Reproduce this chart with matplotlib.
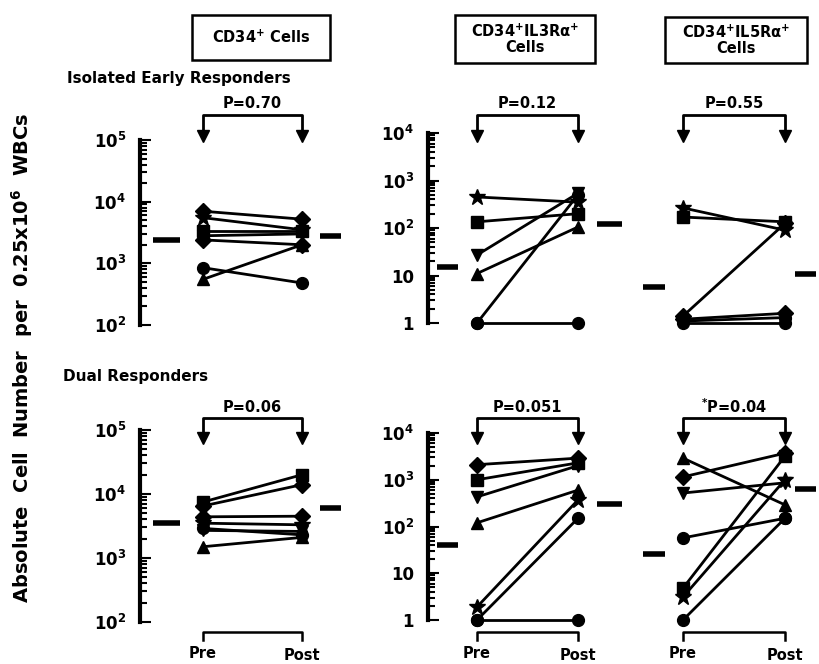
import matplotlib.pyplot as plt
import numpy as np
from matplotlib.transforms import blended_transform_factory
from matplotlib.patches import Rectangle

W, H = 819, 664
plt.rcParams['font.family'] = 'DejaVu Sans'
plt.rcParams['font.weight'] = 'bold'
plt.rcParams['mathtext.default'] = 'bf'

# ---- data ----
# top row: isolated early responders
iso_cd34_pre = [7000, 5500, 3300, 2800, 2400, 850, 550]
iso_cd34_post = [5200, 3500, 3300, 3000, 2000, 480, 2000]
iso_cd34_mk = ['D', '*', 's', 'v', 'D', 'o', '^']
iso_cd34_mean = [2400, 2800]

iso_il3_pre = [450, 135, 27, 11, 1, 1]
iso_il3_post = [350, 200, 540, 105, 500, 1]
iso_il3_mk = ['*', 's', 'v', '^', 'o', 'o']
iso_il3_mean = [15, 120]

iso_il5_pre = [265, 170, 1.4, 1.2, 1.1, 1]
iso_il5_post = [90, 135, 125, 1.6, 1.3, 1]
iso_il5_mk = ['*', 's', 'D', 'D', 'o', 'o']
iso_il5_mean = [5.8, 11]

# bottom row: dual responders
dual_cd34_pre = [7500, 6500, 4400, 3500, 2900, 2700, 1500]
dual_cd34_post = [20000, 14000, 4500, 3300, 2300, 2600, 2100]
dual_cd34_mk = ['s', 'D', 'D', '*', 'o', 'v', '^']
dual_cd34_mean = [3500, 6000]

dual_il3_pre = [2100, 1000, 430, 120, 1.9, 1, 1]
dual_il3_post = [2900, 2300, 2000, 600, 370, 150, 1]
dual_il3_mk = ['D', 's', 'v', '^', '*', 'o', 'o']
dual_il3_mean = [40, 310]

dual_il5_pre = [2900, 1150, 520, 57, 4.8, 3.1, 1]
dual_il5_post = [290, 3700, 860, 150, 3200, 1000, 150]
dual_il5_mk = ['^', 'D', 'v', 'o', 's', '*', 'o']
dual_il5_mean = [26, 630]

p_texts = [['P=0.70', 'P=0.12', 'P=0.55'],
           ['P=0.06', 'P=0.051', '$^{*}$P=0.04']]

fig = plt.figure(figsize=(W / 100, H / 100), dpi=100)


def fx(px):
    return px / W


def fy(py):
    return 1 - py / H


# panel geometry in pixels: x0, x1, pre_px, post_px, left mean, right mean
cols = [
    dict(x0=140, x1=345, pre=203, post=302, ml=(153, 180), mr=(320, 341)),
    dict(x0=428, x1=625, pre=477, post=578, ml=(437, 458), mr=(597, 622)),
    dict(x0=630, x1=818, pre=683, post=785, ml=(643, 665), mr=(795, 816)),
]
rows = [
    [(140, 325, (1e2, 1e5)), (133, 323, (1, 1e4)), (133, 323, (1, 1e4))],
    [(430, 622, (1e2, 1e5)), (433, 620, (1, 1e4)), (433, 620, (1, 1e4))],
]
panels = [
    [(iso_cd34_pre, iso_cd34_post, iso_cd34_mk, iso_cd34_mean),
     (iso_il3_pre, iso_il3_post, iso_il3_mk, iso_il3_mean),
     (iso_il5_pre, iso_il5_post, iso_il5_mk, iso_il5_mean)],
    [(dual_cd34_pre, dual_cd34_post, dual_cd34_mk, dual_cd34_mean),
     (dual_il3_pre, dual_il3_post, dual_il3_mk, dual_il3_mean),
     (dual_il5_pre, dual_il5_post, dual_il5_mk, dual_il5_mean)],
]
bracket_y = [(115, 136, 104), (418, 438, 407)]

for r in range(2):
    for c in range(3):
        g = cols[c]
        ytop, ybot, ylim = rows[r][c]
        ax = fig.add_axes([fx(g['x0']), fy(ybot), (g['x1'] - g['x0']) / W,
                           (ybot - ytop) / H])
        unit = g['post'] - g['pre']
        ax.set_xlim((g['x0'] - g['pre']) / unit, (g['x1'] - g['pre']) / unit)
        ax.set_yscale('log')
        ax.set_ylim(*ylim)
        for s in ['top', 'right', 'bottom']:
            ax.spines[s].set_visible(False)
        ax.set_xticks([])
        ax.patch.set_alpha(0)
        if c == 2:
            ax.spines['left'].set_visible(False)
            ax.set_yticks([])
            ax.minorticks_off()
        else:
            ax.spines['left'].set_linewidth(3)
            ax.tick_params(which='both', direction='in', width=1.5, pad=10,
                           labelsize=12)
            ax.tick_params(which='major', length=8)
            ax.tick_params(which='minor', length=5, labelleft=False)
            if c == 0:
                ticks = [1e2, 1e3, 1e4, 1e5]
                labs = ['10$^2$', '10$^3$', '10$^4$', '10$^5$']
            else:
                ticks = [1, 10, 1e2, 1e3, 1e4]
                labs = ['1', '10', '10$^2$', '10$^3$', '10$^4$']
            ax.set_yticks(ticks)
            ax.set_yticklabels(labs)

        pre, post, mk, mean = panels[r][c]
        for a, b, m in zip(pre, post, mk):
            ms = 12 if m == '*' else 8.5
            ax.plot([0, 1], [a, b], color='black', lw=2, marker=m, ms=ms,
                    clip_on=False, zorder=3)
        ml = [(p - g['pre']) / unit for p in g['ml']]
        mr = [(p - g['pre']) / unit for p in g['mr']]
        ax.plot(ml, [mean[0]] * 2, color='black', lw=4, solid_capstyle='butt',
                clip_on=False)
        ax.plot(mr, [mean[1]] * 2, color='black', lw=4, solid_capstyle='butt',
                clip_on=False)

        # p-value bracket with arrows
        tr = blended_transform_factory(ax.transData, fig.transFigure)
        by, ay, ty = bracket_y[r]
        ax.plot([0, 0, 1, 1], [fy(ay), fy(by), fy(by), fy(ay)], color='black',
                lw=2, transform=tr, clip_on=False)
        ax.plot([0, 1], [fy(ay), fy(ay)], ls='none', marker='v', ms=9,
                color='black', transform=tr, clip_on=False)
        ax.text(0.5, fy(ty), p_texts[r][c], transform=tr, ha='center',
                va='center', fontsize=10.5, fontweight='bold')

        if r == 1:
            ax.plot([0, 0, 1, 1], [fy(640), fy(632), fy(632), fy(640)],
                    color='black', lw=1.8, transform=tr, clip_on=False)
            ax.text(0, fy(654), 'Pre', transform=tr, ha='center', va='center',
                    fontsize=10.5, fontweight='bold')
            ax.text(1, fy(656), 'Post', transform=tr, ha='center', va='center',
                    fontsize=10.5, fontweight='bold')

# boxed column titles
boxes = [((192, 15, 330, 60), 'CD34$^{+}$ Cells'),
         ((455, 15, 595, 63), 'CD34$^{+}$IL3Rα$^{+}$\nCells'),
         ((665, 17, 807, 63), 'CD34$^{+}$IL5Rα$^{+}$\nCells')]
for (x0, y0, x1, y1), txt in boxes:
    fig.add_artist(Rectangle((fx(x0), fy(y1)), (x1 - x0) / W, (y1 - y0) / H,
                             transform=fig.transFigure, fill=False, lw=1.8,
                             edgecolor='black'))
    fig.text(fx((x0 + x1) / 2), fy((y0 + y1) / 2), txt, ha='center',
             va='center', fontsize=10.5, fontweight='bold', linespacing=1.0)

fig.text(fx(67), fy(78), 'Isolated Early Responders', ha='left', va='center',
         fontsize=11, fontweight='bold')
fig.text(fx(63), fy(376), 'Dual Responders', ha='left', va='center',
         fontsize=11, fontweight='bold')
fig.text(fx(22), fy(358), 'Absolute  Cell  Number  per  0.25x10$^6$  WBCs',
         rotation=90, ha='center', va='center', fontsize=14, fontweight='bold')

fig.savefig('out.png', dpi=100, facecolor='white')
